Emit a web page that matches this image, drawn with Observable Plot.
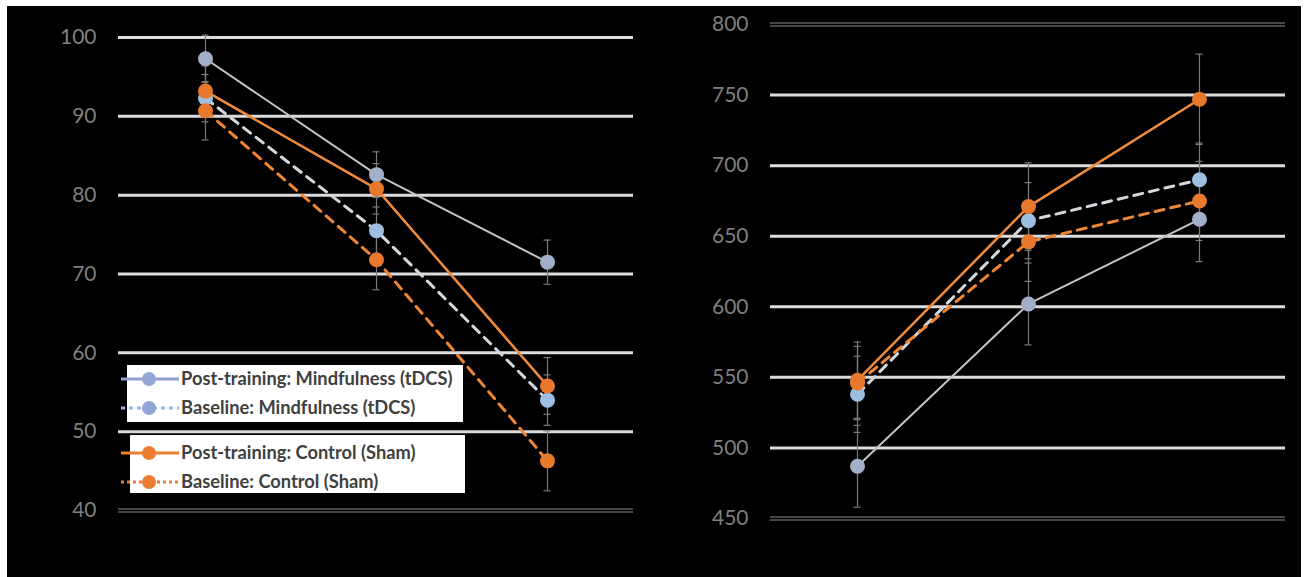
<!DOCTYPE html>
<html><head><meta charset="utf-8">
<script src="https://cdn.jsdelivr.net/npm/d3@7"></script>
<script src="https://cdn.jsdelivr.net/npm/@observablehq/plot@0.6"></script>
<style>
body{margin:0;background:#fff;width:1305px;height:577px;overflow:hidden;position:relative;font-family:Lato,sans-serif}
#bg{position:absolute;left:7px;top:6px;width:1294px;height:571px;background:#000}
#left,#right{position:absolute;top:0}
#left{left:0}
#right{left:650px}
.box{position:absolute;background:#fff}
.lab{position:absolute;font:700 18.3px Lato,sans-serif;color:#404040;white-space:nowrap;line-height:1}
#legsym{position:absolute;left:0;top:0;pointer-events:none}
</style></head><body>
<div id="bg"></div><div id="left"></div><div id="right"></div><div id="legend"></div>
<script>
// ---- data ----
const categories = ["Time 1", "Time 2", "Time 3"];
const seriesNames = [
  "Post-training: Mindfulness (tDCS)",
  "Baseline: Mindfulness (tDCS)",
  "Post-training: Control (Sham)",
  "Baseline: Control (Sham)"
];
// left panel (40-100)
const leftTicks = [40, 50, 60, 70, 80, 90, 100];
const leftPostMind = [97.3, 82.6, 71.5];
const leftPostMindErr = [3.0, 2.9, 2.8];
const leftBaseMind = [92.3, 75.5, 54.0];
const leftBaseMindErr = [3.0, 3.0, 3.2];
const leftPostCtrl = [93.2, 80.8, 55.8];
const leftPostCtrlErr = [3.2, 3.2, 3.6];
const leftBaseCtrl = [90.7, 71.8, 46.3];
const leftBaseCtrlErr = [3.7, 3.8, 3.8];
// right panel (450-800)
const rightTicks = [450, 500, 550, 600, 650, 700, 750, 800];
const rightPostMind = [487, 602, 662];
const rightPostMindErr = [29, 29, 30];
const rightBaseMind = [538, 661, 690];
const rightBaseMindErr = [27, 27, 26];
const rightPostCtrl = [548, 671, 747];
const rightPostCtrlErr = [27, 31, 32];
const rightBaseCtrl = [546, 646, 675];
const rightBaseCtrlErr = [26, 28, 28];

// ---- styles ----
const styles = {
  "Post-training: Mindfulness (tDCS)": {line: "#c4c4c4", width: 2, dash: null, dot: "#a2afc9"},
  "Baseline: Mindfulness (tDCS)": {line: "#d3d8de", width: 3, dash: "9,7", dot: "#9dbfe2"},
  "Post-training: Control (Sham)": {line: "#f08b3b", width: 2.5, dash: null, dot: "#e8782b"},
  "Baseline: Control (Sham)": {line: "#ef8636", width: 3, dash: "9,7", dot: "#e8782b"}
};

function rows(vals, errs) {
  return seriesNames.map((s, k) => categories.map((c, i) => ({
    series: s, cat: c, value: vals[k][i], lo: vals[k][i] - errs[k][i], hi: vals[k][i] + errs[k][i]
  })));
}

function panel(opts) {
  const data = rows(opts.vals, opts.errs);
  const flat = data.flat();
  const [lo, hi] = opts.domain;
  const inner = opts.ticks.filter(t => !opts.doubles.includes(t));
  const marks = [
    Plot.ruleY(inner, {stroke: "#dcdcdc", strokeWidth: 3}),
    ...opts.doubles.flatMap(t => [
      Plot.ruleY([t], {dy: -1.5, stroke: "#8a8a8a", strokeWidth: 1}),
      Plot.ruleY([t], {dy: 1.5, stroke: "#8a8a8a", strokeWidth: 1})
    ]),
    Plot.axisY({ticks: opts.ticks, tickSize: 0, tickPadding: 22, fontSize: 21, label: null,
                fill: "#7f7f7f", fontFamily: "Lato"}),
    Plot.ruleX(flat, {x: "cat", y1: "lo", y2: "hi", stroke: "#7a7a7a", strokeWidth: 1.2}),
    Plot.ruleY(flat, {x1: "cat", x2: "cat", y: "hi", insetLeft: -3.5, insetRight: -3.5, stroke: "#7a7a7a", strokeWidth: 1.2}),
    Plot.ruleY(flat, {x1: "cat", x2: "cat", y: "lo", insetLeft: -3.5, insetRight: -3.5, stroke: "#7a7a7a", strokeWidth: 1.2}),
    ...data.map(d => {
      const s = styles[d[0].series];
      return Plot.line(d, {x: "cat", y: "value", stroke: s.line, strokeWidth: s.width, strokeDasharray: s.dash});
    }),
    ...data.map(d => {
      const s = styles[d[0].series];
      return Plot.dot(d, {x: "cat", y: "value", r: 7.5, fill: s.dot, stroke: "none"});
    })
  ];
  return Plot.plot({
    width: opts.width, height: 577,
    marginLeft: opts.ml, marginRight: opts.mr, marginTop: opts.mt, marginBottom: opts.mb,
    style: {background: "transparent", color: "#7f7f7f", overflow: "visible"},
    x: {type: "point", domain: categories, padding: 0.5, axis: null},
    y: {domain: [lo, hi], axis: null},
    marks
  });
}

document.getElementById("left").append(panel({
  vals: [leftPostMind, leftBaseMind, leftPostCtrl, leftBaseCtrl],
  errs: [leftPostMindErr, leftBaseMindErr, leftPostCtrlErr, leftBaseCtrlErr],
  domain: [40, 100], ticks: leftTicks, doubles: [40],
  width: 650, ml: 118, mr: 17, mt: 37, mb: 67
}));
document.getElementById("right").append(panel({
  vals: [rightPostMind, rightBaseMind, rightPostCtrl, rightBaseCtrl],
  errs: [rightPostMindErr, rightBaseMindErr, rightPostCtrlErr, rightBaseCtrlErr],
  domain: [450, 800], ticks: rightTicks, doubles: [450, 800],
  width: 655, ml: 120, mr: 20, mt: 24, mb: 59
}));

// ---- legend (HTML boxes + svg samples) ----
const leg = document.getElementById("legend");
const boxes = [{l: 127, t: 365, w: 336, h: 57}, {l: 130, t: 435, w: 335, h: 58}];
boxes.forEach(b => {
  const d = document.createElement("div");
  d.className = "box";
  Object.assign(d.style, {left: b.l + "px", top: b.t + "px", width: b.w + "px", height: b.h + "px"});
  leg.append(d);
});
const rowY = [379, 408, 453, 482];
const legStyles = [
  {line: "#8ea3d0", dash: null, dot: "#94a8d6"},
  {line: "#98b6e0", dash: "4,4", dot: "#94a8d6"},
  {line: "#ed7d31", dash: null, dot: "#ed7d31"},
  {line: "#ed7d31", dash: "3,3", dot: "#ed7d31"}
];
const svgNS = "http://www.w3.org/2000/svg";
const sv = document.createElementNS(svgNS, "svg");
sv.setAttribute("id", "legsym"); sv.setAttribute("width", 1305); sv.setAttribute("height", 577);
seriesNames.forEach((name, i) => {
  const y = rowY[i];
  const ln = document.createElementNS(svgNS, "line");
  ln.setAttribute("x1", 121); ln.setAttribute("x2", 179); ln.setAttribute("y1", y); ln.setAttribute("y2", y);
  ln.setAttribute("stroke", legStyles[i].line); ln.setAttribute("stroke-width", 3);
  if (legStyles[i].dash) ln.setAttribute("stroke-dasharray", legStyles[i].dash);
  sv.append(ln);
  const c = document.createElementNS(svgNS, "circle");
  c.setAttribute("cx", 149); c.setAttribute("cy", y); c.setAttribute("r", 7);
  c.setAttribute("fill", legStyles[i].dot);
  sv.append(c);
  const t = document.createElement("div");
  t.className = "lab";
  t.textContent = name;
  Object.assign(t.style, {left: "181px", top: (y - 10) + "px"});
  leg.append(t);
});
leg.append(sv);
</script>
</body></html>
